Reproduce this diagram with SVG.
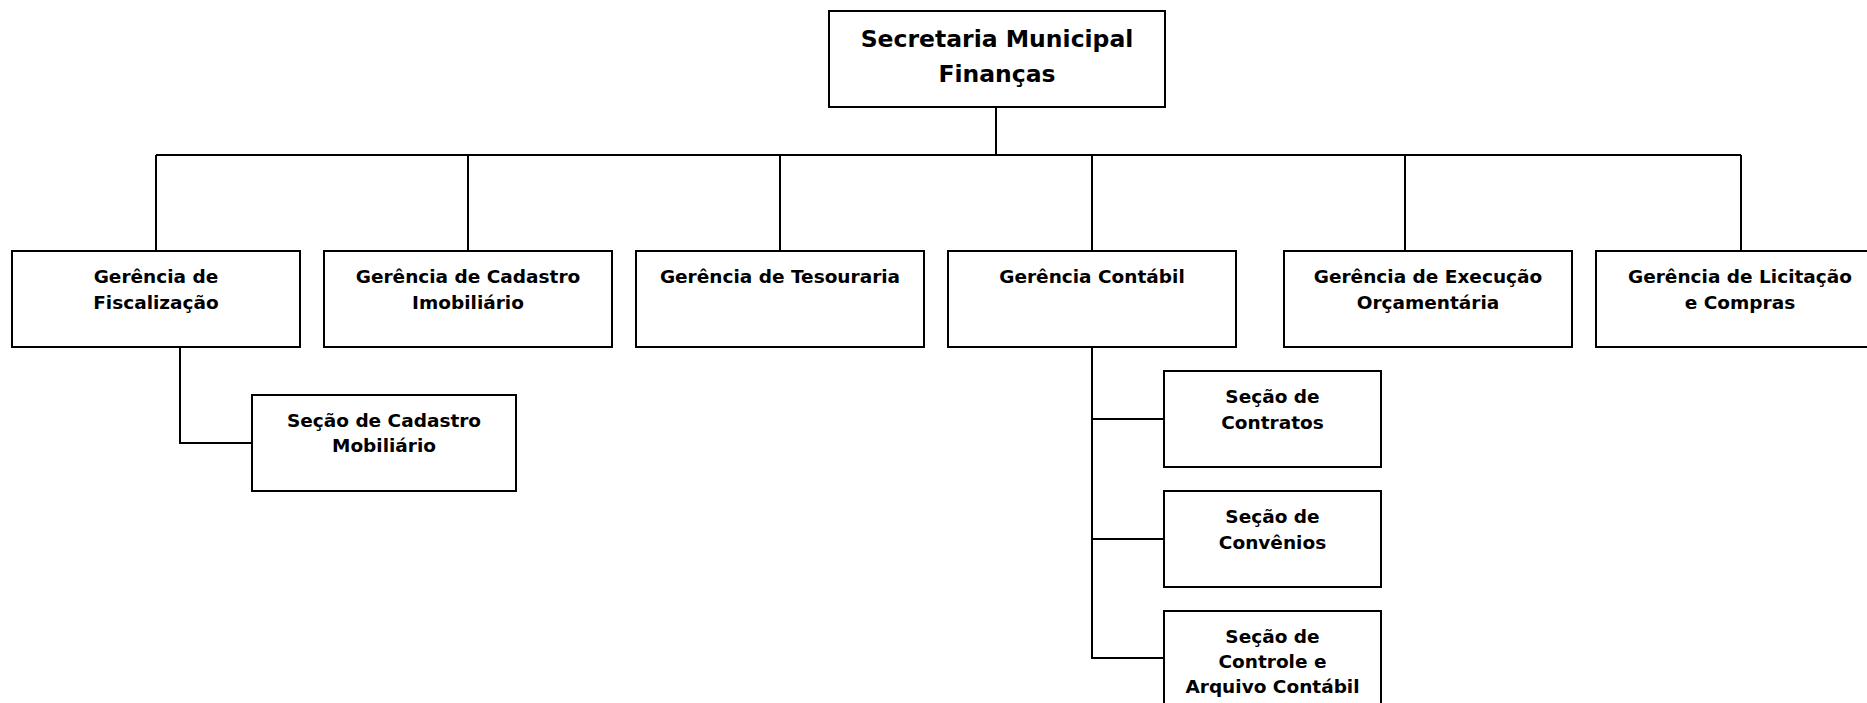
<svg xmlns="http://www.w3.org/2000/svg" width="1867" height="703" viewBox="0 0 1867 703">
<style>
.box{fill:#fff;stroke:#000;stroke-width:2}
.ln{fill:none;stroke:#000;stroke-width:2}
text{font-family:"DejaVu Sans","Liberation Sans",sans-serif;font-weight:bold;fill:#000;text-anchor:middle}
.t{font-size:18.5px}
.tt{font-size:23.5px}
</style>
<rect width="1867" height="703" fill="#fff"/>
<g id="connectors">
<path class="ln" d="M996 107V155M156 155H1741M156 155V251M468 155V251M780 155V251M1092 155V251M1405 155V251M1741 155V251"/>
<path class="ln" d="M180 347V443H252"/>
<path class="ln" d="M1092 347V658H1164M1092 419H1164M1092 539H1164"/>
</g>
<g id="secretaria">
<rect class="box" x="829" y="11" width="336" height="96"/>
<text class="tt" x="997" y="47">Secretaria Municipal</text>
<text class="tt" x="997" y="82">Finanças</text>
</g>
<g id="fiscalizacao">
<rect class="box" x="12" y="251" width="288" height="96"/>
<text class="t" x="156" y="283">Gerência de</text>
<text class="t" x="156" y="309">Fiscalização</text>
</g>
<g id="cadastro-imobiliario">
<rect class="box" x="324" y="251" width="288" height="96"/>
<text class="t" x="468" y="283">Gerência de Cadastro</text>
<text class="t" x="468" y="309">Imobiliário</text>
</g>
<g id="tesouraria">
<rect class="box" x="636" y="251" width="288" height="96"/>
<text class="t" x="780" y="283">Gerência de Tesouraria</text>
</g>
<g id="contabil">
<rect class="box" x="948" y="251" width="288" height="96"/>
<text class="t" x="1092" y="283">Gerência Contábil</text>
</g>
<g id="execucao">
<rect class="box" x="1284" y="251" width="288" height="96"/>
<text class="t" x="1428" y="283">Gerência de Execução</text>
<text class="t" x="1428" y="309">Orçamentária</text>
</g>
<g id="licitacao">
<rect class="box" x="1596" y="251" width="288" height="96"/>
<text class="t" x="1740" y="283">Gerência de Licitação</text>
<text class="t" x="1740" y="309">e Compras</text>
</g>
<g id="cadastro-mobiliario">
<rect class="box" x="252" y="395" width="264" height="96"/>
<text class="t" x="384" y="427">Seção de Cadastro</text>
<text class="t" x="384" y="452">Mobiliário</text>
</g>
<g id="contratos">
<rect class="box" x="1164" y="371" width="217" height="96"/>
<text class="t" x="1272.5" y="403">Seção de</text>
<text class="t" x="1272.5" y="429">Contratos</text>
</g>
<g id="convenios">
<rect class="box" x="1164" y="491" width="217" height="96"/>
<text class="t" x="1272.5" y="523">Seção de</text>
<text class="t" x="1272.5" y="549">Convênios</text>
</g>
<g id="controle">
<rect class="box" x="1164" y="611" width="217" height="96"/>
<text class="t" x="1272.5" y="643">Seção de</text>
<text class="t" x="1272.5" y="668">Controle e</text>
<text class="t" x="1272.5" y="693">Arquivo Contábil</text>
</g>
</svg>
